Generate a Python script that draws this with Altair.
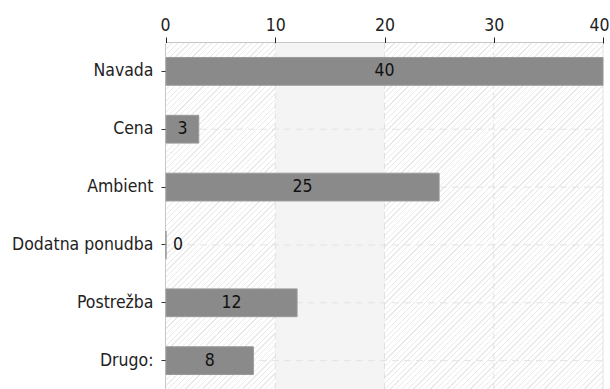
import altair as alt
import pandas as pd

# Survey answers and their counts
categories = ["Navada", "Cena", "Ambient", "Dodatna ponudba", "Postrežba", "Drugo:"]
counts = [40, 3, 25, 0, 12, 8]
x_ticks = [0, 10, 20, 30, 40]

FONT = "'DejaVu Sans Condensed', 'DejaVu Sans'"
FS = 17.5
PLOT_W, PLOT_H = 437, 346

df = pd.DataFrame({"answer": categories, "count": counts})
inner_df = pd.DataFrame({"t": x_ticks[1:-1]})
edge_df = pd.DataFrame({"t": x_ticks[-1:]})

x_scale = alt.Scale(domain=[x_ticks[0], x_ticks[-1]], nice=False, zero=True)
y_scale = alt.Scale(domain=categories, paddingInner=0.52, paddingOuter=0.25)

# Diagonal hatch fill built from a linear gradient with hard stops
period = 5.7 / (PLOT_W + PLOT_H)
stops = []
t = 0.0
while t < 1.0:
    a = t
    b = min(t + period * 0.22, 1.0)
    c = min(t + period, 1.0)
    stops += [
        alt.GradientStop(color="#e9e9e9", offset=a),
        alt.GradientStop(color="#e9e9e9", offset=b),
        alt.GradientStop(color="#ffffff", offset=b),
        alt.GradientStop(color="#ffffff", offset=c),
    ]
    t += period
gx, gy = 1.0, PLOT_H / PLOT_W
k = (gx + gy) / (gx * gx + gy * gy)
hatch = alt.LinearGradient(gradient="linear", stops=stops, x1=0, y1=0, x2=gx * k, y2=gy * k)

bg = alt.Chart(pd.DataFrame({"a": [x_ticks[0]], "b": [x_ticks[-1]]})).mark_rect(
    fill=hatch, strokeWidth=0
).encode(x=alt.X("a:Q", scale=x_scale), x2="b:Q")

band = alt.Chart(pd.DataFrame({"a": [x_ticks[1]], "b": [x_ticks[2]]})).mark_rect(
    fill="#f4f4f4", strokeWidth=0
).encode(x=alt.X("a:Q", scale=x_scale), x2="b:Q")

vgrid = alt.Chart(inner_df).mark_rule(
    color="#e0e0e0", strokeDash=[6, 4], strokeWidth=1
).encode(x=alt.X("t:Q", scale=x_scale))

vedge = alt.Chart(edge_df).mark_rule(color="#e2e2e2", strokeWidth=1).encode(
    x=alt.X("t:Q", scale=x_scale)
)

hgrid = alt.Chart(df).mark_rule(
    color="#e3e3e3", strokeDash=[7, 5], strokeWidth=1
).encode(y=alt.Y("answer:N", scale=y_scale, sort=categories))

bars = alt.Chart(df).mark_bar(color="#8a8a8a", stroke="#9a9a9a", strokeWidth=1).encode(
    x=alt.X(
        "count:Q",
        scale=x_scale,
        axis=alt.Axis(
            orient="top", values=x_ticks, title=None, grid=False,
            domainColor="#222222", domainWidth=1.5, tickColor="#222222",
            tickSize=6, labelFont=FONT, labelFontSize=FS, labelColor="#222222",
            labelPadding=3, labelFlush=True, labelFlushOffset=6,
        ),
    ),
    y=alt.Y(
        "answer:N",
        scale=y_scale,
        sort=categories,
        axis=alt.Axis(
            title=None, grid=False, domainColor="#222222", domainWidth=1.5,
            tickColor="#333333", tickSize=5, labelFont=FONT, labelFontSize=FS,
            labelColor="#222222", labelPadding=8,
        ),
    ),
)

labels = alt.Chart(df).transform_calculate(
    mid="max(datum.count / 2, 1.1)"
).mark_text(font=FONT, fontSize=FS, color="#111111", align="center", baseline="middle").encode(
    x=alt.X("mid:Q", scale=x_scale),
    y=alt.Y("answer:N", scale=y_scale, sort=categories),
    text="count:Q",
)

chart = alt.layer(bg, band, vgrid, vedge, hgrid, bars, labels).properties(
    width=PLOT_W,
    height=PLOT_H,
    padding={"left": 166, "top": 43, "right": 7, "bottom": 0},
    autosize=alt.AutoSizeParams(type="none"),
    background="#ffffff",
).configure_view(stroke=None)

chart.save("out.html", embed_options={"renderer": "svg", "actions": False})
